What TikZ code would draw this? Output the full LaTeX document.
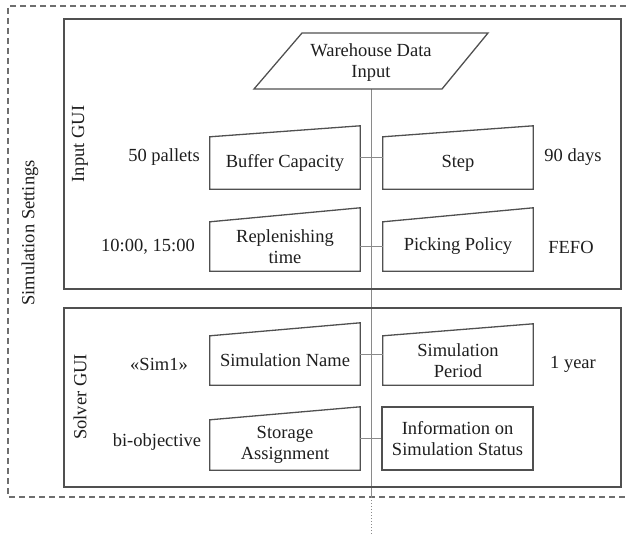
\documentclass[tikz,border=0pt]{standalone}
\usepackage{fontspec}
\setmainfont{Liberation Serif}
\usetikzlibrary{calc}
\definecolor{boxc}{HTML}{505050}
\definecolor{linec}{HTML}{8A8A8A}
\definecolor{dashc}{HTML}{6E6E6E}
\definecolor{txtc}{HTML}{1E1E1E}
\newcommand\fieldshape[2]{%
  \draw[frame] (#1.north west) -- ([yshift=#2]#1.north east) -- (#1.south east) -- (#1.south west) -- cycle;}
\begin{document}
\begin{tikzpicture}[x=1pt,y=-1pt,
  every node/.style={text=txtc,font=\fontsize{18.5}{22}\selectfont},
  frame/.style={draw=boxc,line width=1.3pt},
  field/.style={minimum width=150pt, inner sep=0pt, align=center},
  conn/.style={draw=linec,line width=0.9pt},
  lbl/.style={inner sep=0pt}
]
\useasboundingbox (0,0) rectangle (626,534);
% outer dashed frame (right side lies beyond the picture)
\draw[draw=dashc,line width=1.3pt,dash pattern=on 6pt off 4pt] (626,6) -- (8,6) -- (8,497) -- (626,497);
\node[lbl,rotate=90] (simset) at (30,233) {Simulation Settings};

% central line
\coordinate (ctop) at (371,89);
\coordinate (cbot) at (371,497);
\coordinate (cend) at (371,534);
\draw[conn] (ctop) -- (cbot);
\draw[draw=linec,line width=0.9pt,dash pattern=on 1.2pt off 1.8pt] (cbot) -- (cend);

% group boxes
\draw[frame] (64,19) rectangle (621,289);
\draw[frame] (64,308) rectangle (621,487);
\node[lbl,rotate=90] (ingui) at (80,144) {Input GUI};
\node[lbl,rotate=90] (solgui) at (80,397) {Solver GUI};

% data input
\draw[frame] (302,33) -- (488,33) -- (442,89) -- (254,89) -- cycle;
\node[align=center,inner sep=0pt] (wdi) at (371,63) {Warehouse Data\\[-1pt]Input};

% row 1
\node[field,minimum height=52pt] (buf) at (285,163) {Buffer Capacity};
\node[field,minimum height=52pt] (step) at (458,163) {Step};
\fieldshape{buf}{11pt}
\fieldshape{step}{11pt}
\draw[conn] (buf.east |- 0,157) -- (step.west |- 0,157);
\node[lbl] (v50) at (164,157) {50 pallets};
\node[lbl] (v90) at (573,157) {90 days};

% row 2
\node[field,minimum height=49pt] (rep) at (285,246.5) {Replenishing\\[-1pt]time};
\node[field,minimum height=49pt] (pick) at (458,246.5) {Picking Policy};
\fieldshape{rep}{14pt}
\fieldshape{pick}{14pt}
\draw[conn] (rep.east |- 0,246) -- (pick.west |- 0,246);
\node[lbl] (vtime) at (148,247) {10:00, 15:00};
\node[lbl] (vfefo) at (571,247) {FEFO};

% row 3
\node[field,minimum height=49pt] (sname) at (285,360.5) {Simulation Name};
\node[field,minimum height=49pt] (sper) at (458,360.5) {Simulation\\[-1pt]Period};
\fieldshape{sname}{13pt}
\fieldshape{sper}{12pt}
\draw[conn] (sname.east |- 0,354) -- (sper.west |- 0,354);
\node[lbl] (vsim) at (159,364) {«Sim1»};
\node[lbl] (vyear) at (573,364) {1 year};

% row 4
\node[field,minimum height=50pt] (stor) at (285,445) {Storage\\[-1pt]Assignment};
\node[field,minimum width=151pt,minimum height=63pt,draw=boxc,line width=1.3pt] (info) at (457.5,438.5) {Information on\\[-1pt]Simulation Status};
\fieldshape{stor}{13pt}
\draw[conn] (stor.east |- 0,438) -- (info.west |- 0,438);
\node[lbl] (vbi) at (157,442) {bi-objective};
\end{tikzpicture}
\end{document}
